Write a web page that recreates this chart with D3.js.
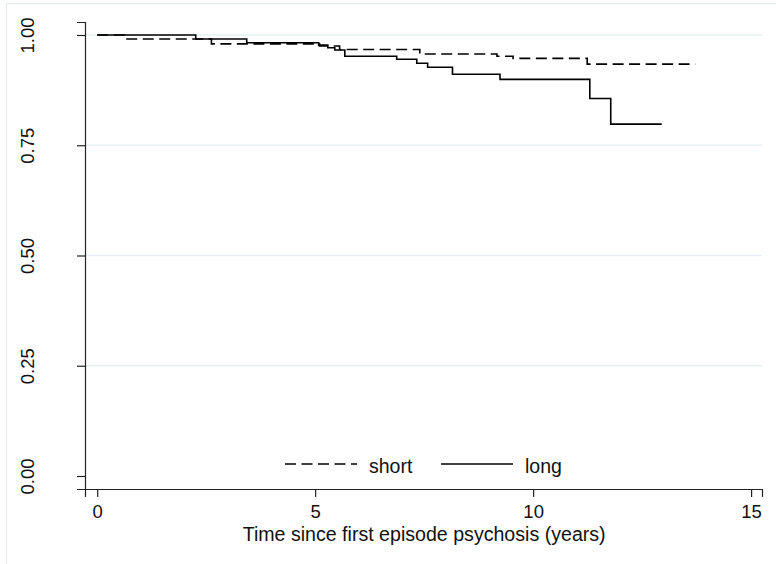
<!DOCTYPE html>
<html>
<head>
<meta charset="utf-8">
<script src="https://cdn.jsdelivr.net/npm/d3@7/dist/d3.min.js"></script>
<style>
  html, body { margin: 0; padding: 0; background: #fff; }
  svg { display: block; font-family: "Liberation Sans", Arial, sans-serif; }
</style>
</head>
<body>
<svg id="chart" width="776" height="564"></svg>
<script>
// Kaplan-Meier survival estimates by duration group
const shortTime = [0, 0.63, 2.62, 5.10, 5.56, 7.40, 9.17, 9.54, 11.24, 13.72];
const shortSurv = [1.0, 0.991, 0.980, 0.975, 0.967, 0.957, 0.952, 0.947, 0.934, 0.934];

const longTime = [0, 2.26, 3.43, 5.08, 5.29, 5.45, 5.68, 6.87, 7.33, 7.58, 8.15, 9.24, 11.30, 11.78, 12.95];
const longSurv = [1.0, 0.991, 0.9825, 0.977, 0.971, 0.966, 0.952, 0.945, 0.936, 0.927, 0.911, 0.8995, 0.856, 0.798, 0.798];

const xTicks = [0, 5, 10, 15];
const yTicks = [0, 0.25, 0.5, 0.75, 1];
const xTitle = "Time since first episode psychosis (years)";
const legendLabels = ["short", "long"];

const svg = d3.select("#chart");

// outer graph region frame
svg.append("rect")
  .attr("x", 6.5).attr("y", 3.5)
  .attr("width", 900).attr("height", 900)
  .attr("fill", "#fff")
  .attr("stroke", "#e3ebee").attr("stroke-width", 1);

const x = d3.scaleLinear().domain([-0.28, 15.25]).range([85, 762]);
const y = d3.scaleLinear().domain([-0.0295, 1.0295]).range([489, 22]);

// horizontal grid lines
svg.append("g").selectAll("line")
  .data(yTicks.filter(d => d > 0))
  .join("line")
  .attr("x1", 86).attr("x2", 762)
  .attr("y1", d => y(d)).attr("y2", d => y(d))
  .attr("stroke", "#e6eff1").attr("stroke-width", 1.5);

// axes
const yAxis = svg.append("g")
  .attr("transform", "translate(85,0)")
  .call(d3.axisLeft(y).tickValues(yTicks).tickFormat(d3.format(".2f")).tickSizeOuter(0).tickSize(8).tickPadding(0));
const xAxis = svg.append("g")
  .attr("transform", "translate(0,489)")
  .call(d3.axisBottom(x).tickValues(xTicks).tickFormat(d3.format("d")).tickSizeOuter(0).tickSize(8));

[yAxis, xAxis].forEach(g => {
  g.select(".domain").attr("stroke", "#222").attr("stroke-width", 1.2);
  g.selectAll(".tick line").attr("stroke", "#222").attr("stroke-width", 1.2);
  g.selectAll("text").attr("fill", "#111").style("font-size", "18.5px")
    .style("font-family", "'Liberation Sans', Arial, sans-serif");
});

yAxis.selectAll(".tick text")
  .attr("x", 0).attr("dy", null)
  .attr("text-anchor", "middle")
  .attr("transform", "translate(-51,0) rotate(-90)");

xAxis.selectAll(".tick text")
  .attr("y", 29).attr("dy", null);

// axis title
svg.append("text")
  .attr("x", x(7.5)).attr("y", 541)
  .attr("text-anchor", "middle")
  .attr("fill", "#111")
  .style("font-size", "19.6px")
  .text(xTitle);

// survival curves
const line = d3.line()
  .x(d => x(d[0])).y(d => y(d[1]))
  .curve(d3.curveStepAfter);

svg.append("path")
  .datum(shortTime.map((t, i) => [t, shortSurv[i]]))
  .attr("d", line)
  .attr("fill", "none").attr("stroke", "#000")
  .attr("stroke-width", 1.6)
  .attr("stroke-dasharray", "11,5.5");

svg.append("path")
  .datum(longTime.map((t, i) => [t, longSurv[i]]))
  .attr("d", line)
  .attr("fill", "none").attr("stroke", "#000")
  .attr("stroke-width", 1.6);

// legend
const legend = svg.append("g");
const legendItems = [
  { label: legendLabels[0], x0: 285, x1: 357, dash: "11,5.5" },
  { label: legendLabels[1], x0: 441, x1: 513, dash: null }
];
legendItems.forEach(it => {
  legend.append("line")
    .attr("x1", it.x0).attr("x2", it.x1)
    .attr("y1", 464).attr("y2", 464)
    .attr("stroke", "#000").attr("stroke-width", 1.6)
    .attr("stroke-dasharray", it.dash);
  legend.append("text")
    .attr("x", it.x1 + 12).attr("y", 473)
    .attr("fill", "#111")
    .style("font-size", "19.5px")
    .text(it.label);
});
</script>
</body>
</html>
